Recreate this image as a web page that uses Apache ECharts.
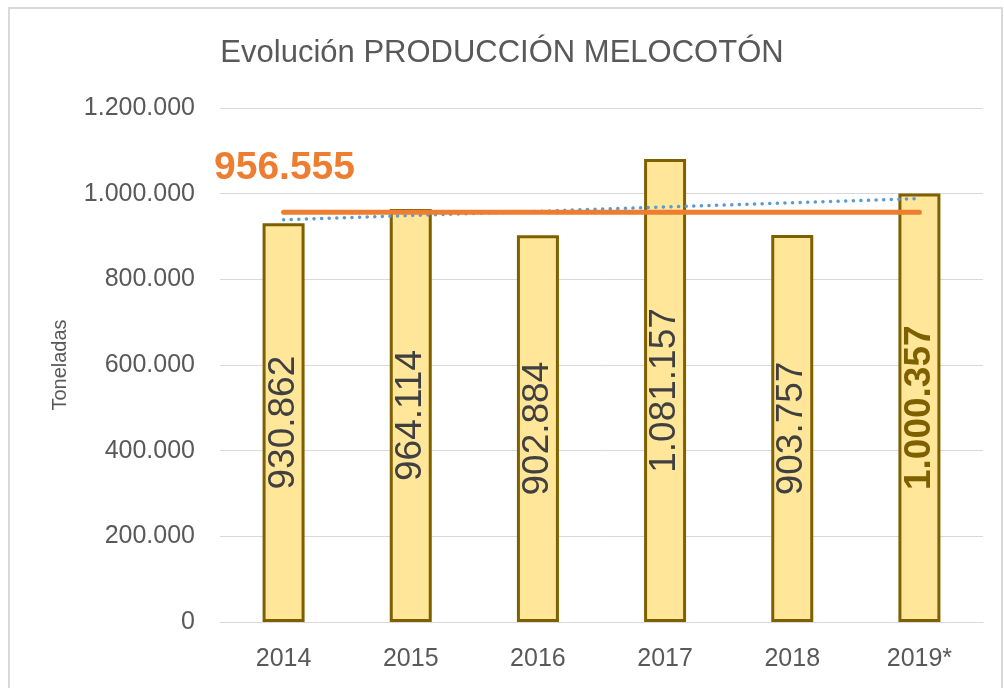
<!DOCTYPE html>
<html>
<head>
<meta charset="utf-8">
<script src="https://cdn.jsdelivr.net/npm/echarts@6/dist/echarts.min.js"></script>
<style>
  html, body { margin: 0; padding: 0; background: #fff; }
  #chart { width: 1004px; height: 688px; }
</style>
</head>
<body>
<div id="chart"></div>
<script>
// datos
const years = ['2014', '2015', '2016', '2017', '2018', '2019*'];
const production = [930862, 964114, 902884, 1081157, 903757, 1000357];
const average = 956555;
// línea de tendencia: extremos
const trend = [939200, '-', '-', '-', '-', 988500];
const yTicks = [0, 200000, 400000, 600000, 800000, 1000000, 1200000];

// separador de miles con punto
function fmt(v) {
  return String(Math.round(v)).replace(/\B(?=(\d{3})+(?!\d))/g, '.');
}

const chart = echarts.init(document.getElementById('chart'), null, { renderer: 'canvas' });
const font = '"Liberation Sans", "DejaVu Sans", sans-serif';

chart.setOption({
  animation: false,
  textStyle: { fontFamily: font },
  title: {
    text: 'Evolución PRODUCCIÓN MELOCOTÓN',
    left: 'center',
    top: 33,
    textStyle: { fontSize: 31, fontWeight: 'normal', color: '#595959', fontFamily: font }
  },
  graphic: [
    {
      type: 'rect',
      shape: { x: 9, y: 8, width: 993, height: 700 },
      style: { fill: 'none', stroke: '#D9D9D9', lineWidth: 2 },
      silent: true
    },
    {
      type: 'text',
      left: 214,
      top: 149,
      style: {
        text: fmt(average),
        fill: '#ED7D31',
        font: 'bold 39px ' + font
      }
    }
  ],
  grid: { left: 220, right: 21, top: 108, bottom: 66 },
  xAxis: {
    type: 'category',
    data: years,
    axisLine: { lineStyle: { color: '#D9D9D9', width: 1 } },
    axisTick: { show: false },
    axisLabel: { fontSize: 25, color: '#595959', margin: 25 }
  },
  yAxis: {
    type: 'value',
    min: yTicks[0],
    max: yTicks[yTicks.length - 1],
    interval: 200000,
    name: 'Toneladas',
    nameLocation: 'middle',
    nameGap: 150,
    nameTextStyle: { fontSize: 20, color: '#595959' },
    axisLabel: { fontSize: 25, color: '#595959', margin: 25, formatter: fmt },
    splitLine: { lineStyle: { color: '#D9D9D9', width: 1 } }
  },
  series: [
    {
      type: 'bar',
      data: production.map((v, i) => ({
        value: v,
        label: i === production.length - 1
          ? { color: '#7F6000', fontWeight: 'bold' }
          : {}
      })),
      barWidth: 42,
      itemStyle: { color: '#FFE699', borderColor: '#7F6000', borderWidth: 3 },
      label: {
        show: true,
        position: 'inside',
        rotate: 90,
        fontSize: 37,
        color: '#404040',
        formatter: p => fmt(p.value)
      },
      z: 2
    },
    {
      type: 'line',
      data: years.map(() => average),
      symbol: 'none',
      lineStyle: { color: '#ED7D31', width: 5, cap: 'round' },
      z: 4
    },
    {
      type: 'line',
      data: trend,
      connectNulls: true,
      symbol: 'none',
      lineStyle: { color: '#5B9BD5', width: 3.5, type: [0.1, 7.5], cap: 'round' },
      z: 3
    }
  ]
});
</script>
</body>
</html>
